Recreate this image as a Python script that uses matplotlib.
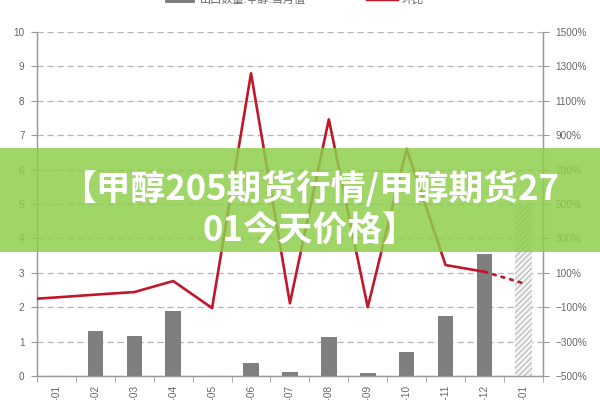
import numpy as np
import matplotlib
matplotlib.use('Agg')
import matplotlib.pyplot as plt
from matplotlib.patches import Rectangle, Patch
from matplotlib.lines import Line2D
from matplotlib.ticker import FuncFormatter, MultipleLocator, FixedLocator

plt.rcParams['font.family'] = ['Liberation Sans', 'Noto Sans CJK SC', 'DejaVu Sans']

months = ['2023-01', '2023-02', '2023-03', '2023-04', '2023-05', '2023-06', '2023-07',
          '2023-08', '2023-09', '2023-10', '2023-11', '2023-12', '2024-01']
# export volume (bars), last month is an estimate (hatched)
export_qty = [0, 1.31, 1.16, 1.89, 0, 0.37, 0.11, 1.14, 0.08, 0.70, 1.74, 3.55, 4.97]
# month-on-month change in %, the first value is the month before the chart starts
prev_mom = -58
mom = [-43, -27, -12, 52, -105, 1260, -77, 992, -100, 821, 145, 106]
mom_forecast = 39

title = '【甲醇205期货行情/甲醇期货27\n01今天价格】'

bar_gray = '#7f7f7f'
red = '#c0182a'
axis_gray = '#999999'
text_gray = '#666666'
tick_size = 7.2

fig = plt.figure(figsize=(6, 4), dpi=100)
ax = fig.add_axes([0.0617, 0.06, 0.843, 0.86])
ax2 = ax.twinx()

x = np.arange(len(months))
ax.bar(x[:-1], export_qty[:-1], width=0.4, color=bar_gray, zorder=3)
plt.rcParams['hatch.linewidth'] = 0.6
ax.bar(x[-1], export_qty[-1], width=0.43, facecolor='#f2f2f2', edgecolor='#a8a8a8',
       hatch='//////', linewidth=0, zorder=3)

ax.set_ylim(0, 10)
ax.set_xlim(-0.5, len(months) - 0.5)
ax.yaxis.set_major_locator(MultipleLocator(1))
ax.grid(axis='y', color='#b5b5b5', linestyle=(0, (5, 3)), linewidth=0.9)
ax.set_axisbelow(True)

ax.set_xticks(x)
ax.set_xticklabels(months, rotation=90, va='top', ha='center')
ax.xaxis.set_minor_locator(FixedLocator(np.arange(-0.5, len(months), 1)))
ax.tick_params(axis='x', which='major', length=0, pad=6.5, labelsize=tick_size, labelcolor=text_gray)
ax.tick_params(axis='x', which='minor', length=4, color=axis_gray, direction='out')
ax.tick_params(axis='y', length=4, color=axis_gray, pad=5, labelsize=tick_size, labelcolor=text_gray)

# line on the secondary axis
line_x = np.concatenate([[-1], x[:-1]])
line_y = [prev_mom] + mom
ax2.plot(line_x, line_y, color=red, linewidth=1.9, zorder=4, clip_on=True)
ax2.plot([x[-2], x[-1]], [mom[-1], mom_forecast], color=red, linewidth=2,
         linestyle=(0, (1, 2.2)), dash_capstyle='round', zorder=4)
ax2.set_ylim(-500, 1500)
ax2.set_yticks(np.arange(-500, 1501, 200))
ax2.yaxis.set_major_formatter(FuncFormatter(lambda v, p: f'{v:.0f}%'.replace('-', '\u2212')))
ax2.tick_params(axis='y', length=4, color=axis_gray, pad=5, labelsize=tick_size, labelcolor=text_gray)
ax2.set_xlim(-0.5, len(months) - 0.5)

for a in (ax, ax2):
    a.spines['top'].set_visible(False)
    for s in ('left', 'right', 'bottom'):
        a.spines[s].set_color(axis_gray)
        a.spines[s].set_linewidth(0.9)

handles = [Patch(facecolor=bar_gray, edgecolor='none'),
           Line2D([0], [0], color=red, linewidth=2.5)]
fig.legend(handles, ['出口数量:甲醇:当月值', '环比'], loc='center', bbox_to_anchor=(0.491, 1.0),
           ncol=2, frameon=False, fontsize=8, labelcolor=text_gray, handlelength=2.7,
           handletextpad=0.4, columnspacing=5.5)

# green banner over the chart
fig.add_artist(Rectangle((0, 0.37), 1, 0.26, transform=fig.transFigure,
                         facecolor='#8fce4c', alpha=0.85, edgecolor='none', zorder=10))
fig.text(0.517, 0.4775, title, ha='center', va='center', multialignment='center',
         color='white', fontsize=25, fontweight='bold', family=['Noto Sans CJK SC', 'DejaVu Sans'],
         linespacing=1.2, zorder=11)

fig.savefig('out.png', dpi=100)
